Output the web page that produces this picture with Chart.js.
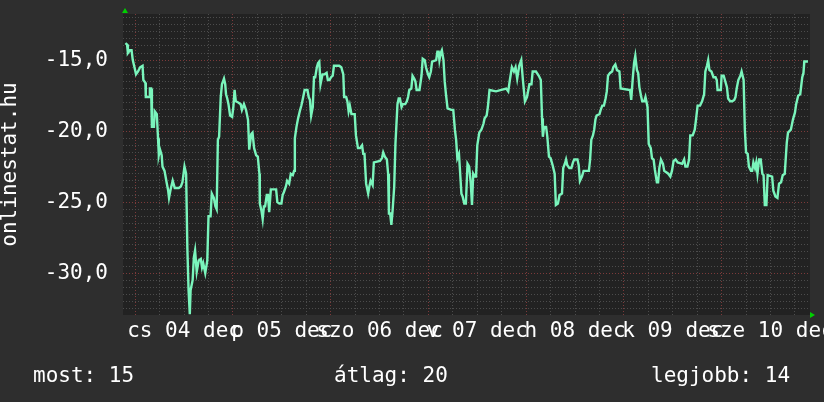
<!DOCTYPE html>
<html>
<head>
<meta charset="utf-8">
<script src="https://cdn.jsdelivr.net/npm/chart.js@4.4.1/dist/chart.umd.min.js"></script>
<style>
html, body { margin: 0; padding: 0; background: #2e2e2e; }
canvas { display: block; }
</style>
</head>
<body>
<canvas id="temp-chart" width="824" height="402"></canvas>
<script>
// hours since dec 04 00:00
var hours = [
    -2.4,-2.0,-1.8,-1.3,-0.9,-0.6,-0.1,0.2,0.7,1.2,
    1.8,2.0,2.5,2.6,3.4,3.6,3.9,4.1,4.6,4.8,
    5.3,5.6,5.8,6.1,6.5,6.7,7.2,7.7,8.1,8.3,
    8.7,9.2,9.7,10.7,11.2,11.6,12.1,12.5,12.8,13.1,
    13.4,13.6,14.1,14.4,14.7,15.1,15.6,16.1,16.4,16.7,
    17.2,17.7,18.0,18.5,18.8,19.3,19.7,20.0,20.3,20.6,
    21.0,21.3,21.8,22.1,22.3,22.6,22.9,23.3,23.8,24.1,
    24.4,24.7,25.4,25.9,26.2,26.7,27.2,27.7,28.0,28.5,
    28.8,29.2,29.7,30.1,30.5,30.6,31.0,31.3,31.6,31.9,
    32.3,32.6,32.9,33.3,34.6,34.9,35.4,35.9,36.2,36.5,
    37.0,37.3,37.8,38.2,38.7,39.0,39.2,39.6,40.0,40.5,
    40.8,41.1,41.6,42.3,42.6,42.9,43.2,43.6,43.9,44.2,
    44.6,44.9,45.2,45.5,46.0,46.5,47.0,47.3,47.7,48.1,
    48.5,48.8,50.1,50.6,51.1,51.3,51.8,52.1,52.4,52.7,
    53.1,53.9,54.2,54.7,55.2,55.7,56.0,56.3,56.7,57.2,
    57.5,57.8,58.3,58.6,60.1,60.6,60.9,61.3,61.8,62.1,
    62.3,62.6,62.9,63.2,63.6,63.9,64.4,64.7,65.0,65.4,
    65.7,66.3,66.7,67.0,67.3,67.8,68.1,68.5,68.8,69.1,
    69.8,70.3,70.6,71.1,71.4,71.9,72.2,72.6,72.9,73.9,
    74.2,74.5,74.7,75.0,75.3,75.7,76.0,76.3,76.7,77.6,
    78.1,78.5,78.8,79.1,79.5,79.8,80.1,80.4,80.8,81.2,
    81.6,82.0,82.4,82.7,83.0,83.4,83.7,84.0,84.5,85.0,
    85.5,85.8,86.3,86.6,87.0,88.6,89.9,91.1,91.6,92.0,
    92.5,93.0,93.4,93.8,94.3,94.8,95.2,95.7,96.2,96.8,
    97.3,97.6,98.4,99.1,99.6,99.9,100.1,100.4,100.9,101.2,
    101.6,102.0,102.5,103.0,103.3,103.8,104.2,104.8,105.1,105.5,
    105.8,106.1,106.6,107.1,107.5,107.8,108.6,108.9,109.2,109.7,
    110.1,111.4,111.7,112.0,112.4,112.7,113.0,113.3,114.0,114.3,
    114.7,115.1,115.5,115.8,116.1,116.6,117.1,117.4,117.9,118.3,
    118.9,119.2,121.5,121.8,122.2,122.5,122.8,123.2,123.5,123.8,
    124.2,124.5,125.0,125.3,125.8,126.1,126.6,126.9,127.3,127.6,
    128.1,128.4,128.7,129.1,129.6,129.9,130.4,130.9,131.4,131.8,
    132.2,132.7,133.2,134.3,134.8,135.1,135.6,136.0,136.3,136.9,
    137.4,137.7,138.1,138.7,139.2,139.7,140.0,140.4,140.7,141.0,
    141.5,142.0,142.5,142.8,143.0,143.8,144.0,144.5,144.8,145.3,
    145.6,146.1,146.6,147.1,147.4,147.7,148.1,148.6,148.9,149.4,
    149.7,150.0,150.4,150.7,151.2,151.5,151.8,152.2,152.5,152.8,
    153.2,153.6,154.0,154.3,154.6,155.0,155.3,156.4,156.7,157.2,
    157.7,158.1,158.6,159.0,159.5,160.0,160.3,161.0,161.5,162.0,
    162.3,162.8,163.3,163.8,164.1,164.3,165.2
];

var temps = [
    -13.8,-13.9,-14.5,-14.3,-14.3,-15.0,-15.6,-16.0,-15.8,-15.5,
    -15.4,-16.4,-16.6,-17.6,-17.6,-17.0,-17.0,-19.7,-19.7,-18.6,
    -18.8,-20.5,-21.7,-21.3,-21.7,-22.5,-22.8,-23.6,-24.2,-24.7,
    -24.1,-23.5,-24.0,-24.0,-23.9,-23.6,-22.5,-23.0,-28.2,-31.2,
    -32.9,-31.2,-30.5,-28.9,-28.4,-29.9,-29.1,-29.0,-29.6,-29.3,
    -30.0,-29.1,-26.0,-26.0,-24.4,-24.7,-25.3,-25.5,-20.6,-20.4,
    -17.6,-16.7,-16.3,-16.7,-17.4,-17.7,-18.1,-18.9,-19.0,-18.3,
    -17.1,-17.9,-18.0,-18.1,-18.5,-18.1,-18.5,-19.2,-21.3,-20.2,
    -20.1,-21.2,-21.7,-21.8,-23.0,-25.1,-25.6,-26.2,-25.3,-25.3,
    -24.5,-24.5,-25.7,-24.1,-24.1,-25.0,-25.1,-25.1,-24.5,-24.3,
    -23.9,-23.5,-23.7,-23.0,-23.1,-22.8,-20.5,-19.7,-19.1,-18.5,
    -18.2,-17.8,-17.1,-17.1,-17.6,-17.8,-18.9,-18.3,-16.2,-16.2,
    -15.5,-15.2,-15.1,-16.7,-16.0,-16.0,-15.9,-16.4,-16.4,-16.2,
    -16.1,-15.4,-15.4,-15.5,-16.0,-17.6,-17.6,-17.9,-18.6,-18.2,
    -18.8,-18.8,-20.3,-21.2,-21.2,-21.0,-21.6,-21.6,-23.7,-24.4,
    -23.9,-23.5,-23.8,-22.2,-22.1,-21.9,-21.5,-21.8,-22.0,-23.0,
    -25.8,-25.8,-26.6,-25.6,-23.9,-20.9,-18.1,-17.7,-17.7,-18.3,
    -18.1,-18.1,-17.9,-17.6,-17.1,-17.0,-16.1,-16.3,-16.5,-17.1,
    -17.1,-16.1,-14.9,-15.0,-15.5,-16.0,-16.2,-15.8,-15.1,-15.0,
    -14.4,-14.4,-15.0,-14.5,-14.3,-15.0,-16.5,-17.4,-18.4,-18.5,
    -18.5,-19.9,-20.6,-21.9,-21.6,-23.0,-24.4,-24.6,-25.1,-25.1,
    -22.3,-22.5,-23.7,-25.2,-23.0,-23.2,-23.2,-21.0,-20.1,-19.9,
    -19.5,-19.1,-18.9,-18.3,-17.1,-17.2,-17.1,-17.0,-17.2,-16.4,
    -15.5,-15.8,-15.5,-16.3,-15.4,-15.0,-16.4,-17.9,-17.6,-16.7,
    -16.7,-15.8,-15.8,-16.1,-16.4,-19.1,-20.4,-19.7,-19.7,-20.4,
    -21.8,-21.9,-22.4,-23.0,-25.2,-25.1,-24.5,-24.4,-22.6,-22.3,
    -22.0,-22.4,-22.6,-22.6,-22.2,-22.0,-22.0,-22.4,-23.5,-23.2,
    -22.8,-22.8,-22.0,-20.6,-20.3,-19.9,-19.2,-18.9,-18.8,-18.5,
    -18.2,-18.2,-17.7,-17.2,-16.1,-15.9,-15.8,-15.5,-15.3,-15.7,
    -15.8,-17.0,-17.1,-17.8,-16.2,-15.2,-14.7,-15.7,-15.9,-16.9,
    -17.5,-17.9,-17.9,-17.6,-18.3,-20.9,-21.2,-21.9,-22.0,-22.7,
    -23.6,-23.6,-22.6,-22.0,-22.3,-22.8,-22.9,-23.0,-23.2,-22.8,
    -22.1,-22.0,-22.2,-22.3,-22.0,-22.5,-22.5,-22.0,-20.3,-20.3,
    -19.9,-19.2,-18.2,-18.2,-17.9,-17.4,-15.8,-15.4,-15.0,-15.7,
    -15.8,-16.2,-16.2,-16.4,-17.1,-17.1,-16.1,-16.1,-16.4,-16.9,
    -17.7,-17.9,-17.9,-17.8,-17.6,-17.0,-16.4,-16.1,-15.8,-16.4,
    -19.9,-21.5,-21.6,-22.5,-22.8,-22.8,-22.2,-22.6,-22.2,-23.0,
    -22.0,-22.0,-23.0,-23.1,-25.2,-25.2,-23.1,-23.2,-24.2,-24.6,
    -24.7,-23.7,-23.6,-23.1,-23.0,-20.8,-20.1,-19.9,-19.2,-18.7,
    -18.1,-17.5,-17.4,-16.2,-15.9,-15.1,-15.1
];

// one label per day, sits at noon
var dayLabels = ["cs 04 dec", "p 05 dec", "szo 06 dec", "v 07 dec", "h 08 dec", "k 09 dec", "sze 10 dec"];
var footerTexts = ["most: 15", "átlag: 20", "legjobb: 14"];
var yTitle = "onlinestat.hu";

var MONO = "'DejaVu Sans Mono', monospace";
var gridGray = "#4c4c4c";
var gridRed = "#7c3a3a";

var points = [];
for (var i = 0; i < hours.length; i++) {
    points.push({ x: hours[i], y: temps[i] });
}

var plotBg = {
    id: 'plotBg',
    beforeDraw: function (chart) {
        var a = chart.chartArea;
        var c = chart.ctx;
        c.save();
        c.fillStyle = '#222222';
        c.fillRect(a.left, a.top, a.right - a.left, a.bottom - a.top);
        c.restore();
    }
};

var extras = {
    id: 'extras',
    afterDraw: function (chart) {
        var a = chart.chartArea;
        var c = chart.ctx;
        c.save();
        // rrd style arrows
        c.fillStyle = '#00d000';
        c.beginPath();
        c.moveTo(a.left - 1, a.top - 1);
        c.lineTo(a.left + 5, a.top - 1);
        c.lineTo(a.left + 2, a.top - 6);
        c.fill();
        c.beginPath();
        c.moveTo(a.right, a.bottom - 3);
        c.lineTo(a.right, a.bottom + 3);
        c.lineTo(a.right + 5, a.bottom);
        c.fill();
        // footer
        c.fillStyle = '#ffffff';
        c.font = "21px " + MONO;
        c.textBaseline = 'alphabetic';
        c.fillText(footerTexts[0], 33, 382);
        c.fillText(footerTexts[1], 334, 382);
        c.fillText(footerTexts[2], 651, 382);
        c.restore();
    }
};

var ctx = document.getElementById('temp-chart').getContext('2d');
var tempChart = new Chart(ctx, {
    type: 'line',
    data: {
        datasets: [
            {
                label: yTitle,
                data: points,
                borderColor: '#7af5bc',
                borderWidth: 2.4,
                pointRadius: 0,
                tension: 0,
                fill: false
            }
        ]
    },
    options: {
        responsive: false,
        animation: false,
        layout: { padding: { top: 14, right: 14, bottom: 55, left: 0 } },
        plugins: {
            legend: { display: false },
            tooltip: { enabled: false }
        },
        scales: {
            x: {
                type: 'linear',
                min: -3.0,
                max: 165.7,
                afterBuildTicks: function (scale) {
                    var t = [];
                    for (var h = 0; h <= 162; h += 6) t.push({ value: h });
                    scale.ticks = t;
                },
                afterFit: function (scale) {
                    scale.height = 32;
                    scale.paddingLeft = 0;
                    scale.paddingRight = 0;
                },
                ticks: {
                    autoSkip: false,
                    maxRotation: 0,
                    minRotation: 0,
                    padding: 4,
                    color: '#ffffff',
                    font: { family: MONO, size: 21 },
                    callback: function (value) {
                        if (value % 24 === 12) return dayLabels[(value - 12) / 24];
                        return '';
                    }
                },
                grid: {
                    drawTicks: false,
                    color: function (c) {
                        return c.tick && c.tick.value % 24 === 0 ? gridRed : gridGray;
                    }
                },
                border: { display: false, dash: [1, 2] }
            },
            y: {
                min: -32.95,
                max: -11.75,
                afterBuildTicks: function (scale) {
                    var t = [];
                    for (var k = -65; k <= -24; k++) t.push({ value: k / 2 });
                    scale.ticks = t;
                },
                afterFit: function (scale) {
                    scale.width = 123;
                    scale.paddingTop = 0;
                    scale.paddingBottom = 0;
                },
                title: {
                    display: true,
                    text: yTitle,
                    color: '#ffffff',
                    font: { family: MONO, size: 21, lineHeight: 1 },
                    padding: 0
                },
                ticks: {
                    autoSkip: false,
                    padding: 15,
                    color: '#ffffff',
                    font: { family: MONO, size: 21 },
                    callback: function (value) {
                        if (value % 5 === 0) return value.toFixed(1).replace('.', ',');
                        return '';
                    }
                },
                grid: {
                    drawTicks: false,
                    color: function (c) {
                        return c.tick && c.tick.value % 5 === 0 ? gridRed : gridGray;
                    }
                },
                border: { display: false, dash: [1, 2] }
            }
        }
    },
    plugins: [plotBg, extras]
});
</script>
</body>
</html>
